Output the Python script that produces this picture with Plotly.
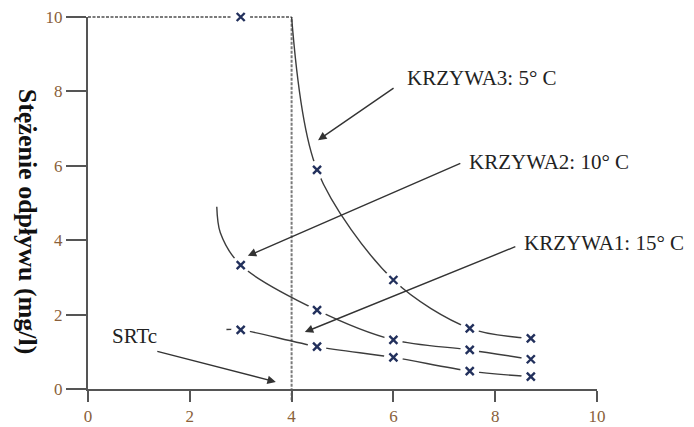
import plotly.graph_objects as go

# Sludge age (SRT, days) at which effluent concentration was measured
srt = [3.0, 4.5, 6.0, 7.5, 8.7]

# Effluent concentration (mg/l) per temperature curve
krzywa3 = [10.0, 5.89, 2.93, 1.63, 1.36]   # 5 °C
krzywa2 = [3.33, 2.12, 1.32, 1.05, 0.80]   # 10 °C
krzywa1 = [1.59, 1.14, 0.85, 0.48, 0.33]   # 15 °C

# Lead-in points where each fitted curve starts (no marker)
krzywa3_start = (4.0, 10.0)
krzywa2_start = [(2.53, 4.90), (2.60, 4.20)]
krzywa1_start = (2.72, 1.60)

# Critical sludge age
SRTC = 4.0
C_MAX = 10.0

x_ticks = [0, 2, 4, 6, 8, 10]
y_ticks = [0, 2, 4, 6, 8, 10]

LINE = "#3c3c3c"
DASH = "#7a7a7a"
TICK_TXT = "#8a5f3a"
SERIF = "Liberation Serif"

fig = go.Figure()

# fitted curves
fig.add_trace(go.Scatter(
    x=[krzywa3_start[0]] + srt[1:], y=[krzywa3_start[1]] + krzywa3[1:],
    mode="lines", line=dict(color=LINE, width=1.4, shape="spline", smoothing=0.9),
    hoverinfo="skip"))
fig.add_trace(go.Scatter(
    x=[p[0] for p in krzywa2_start] + srt, y=[p[1] for p in krzywa2_start] + krzywa2,
    mode="lines", line=dict(color=LINE, width=1.4, shape="spline", smoothing=0.9),
    hoverinfo="skip"))
fig.add_trace(go.Scatter(
    x=[krzywa1_start[0]] + srt, y=[krzywa1_start[1]] + krzywa1,
    mode="lines", line=dict(color=LINE, width=1.4, shape="spline", smoothing=0.9),
    hoverinfo="skip"))

all_x = srt * 3
all_y = krzywa3 + krzywa2 + krzywa1

# white halo behind each measurement mark
fig.add_trace(go.Scatter(
    x=all_x, y=all_y, mode="markers", cliponaxis=False,
    marker=dict(symbol="circle", size=19, color="white", line=dict(width=0)),
    hoverinfo="skip"))
# measurement marks
fig.add_trace(go.Scatter(
    x=all_x, y=all_y, mode="markers", cliponaxis=False,
    marker=dict(symbol="x-thin", size=8, line=dict(width=2.4, color="#22305c")),
    hoverinfo="skip"))

# SRTc guide lines
dash_line = dict(color=DASH, width=2, dash="3px,1.5px")
fig.add_shape(type="line", xref="x", yref="paper", x0=SRTC, x1=SRTC, y0=-0.03, y1=1,
              line=dash_line, layer="below")
fig.add_shape(type="line", xref="x", yref="paper", x0=0, x1=SRTC, y0=1, y1=1,
              line=dash_line, layer="below")

label_font = dict(family=SERIF, size=21, color="#222222")
arrow_kw = dict(showarrow=True, arrowhead=2, arrowsize=1.2, arrowwidth=1.4,
                arrowcolor="#333333", axref="pixel", ayref="pixel", text="")

# arrows: head on the curve, tail next to its label
fig.add_annotation(x=4.52, y=6.69, ax=77, ay=-53, **arrow_kw)
fig.add_annotation(x=3.14, y=3.58, ax=214, ay=-93, **arrow_kw)
fig.add_annotation(x=4.26, y=1.53, ax=212, ay=-86, **arrow_kw)
fig.add_annotation(x=3.69, y=0.19, ax=-120, ay=-31, **arrow_kw)

fig.add_annotation(x=6.23, y=8.36, text="KRZYWA3: 5° C", showarrow=False,
                   xanchor="left", yanchor="middle", font=label_font)
fig.add_annotation(x=7.45, y=6.10, text="KRZYWA2: 10° C", showarrow=False,
                   xanchor="left", yanchor="middle", font=label_font)
fig.add_annotation(x=8.53, y=3.92, text="KRZYWA1: 15° C", showarrow=False,
                   xanchor="left", yanchor="middle", font=label_font)
fig.add_annotation(x=0.43, y=1.42, text="SRTc", showarrow=False,
                   xanchor="left", yanchor="middle", font=label_font)

# y-axis title reading top to bottom
fig.add_annotation(xref="paper", yref="paper", x=-0.12, y=0.45,
                   text="<b>Stężenie odpływu (mg/l)</b>", textangle=90,
                   showarrow=False, xanchor="center", yanchor="middle",
                   font=dict(family=SERIF, size=26, color="#111111"))

axis_common = dict(showgrid=False, zeroline=False, showline=True,
                   linecolor="#555555", linewidth=2, ticks="outside",
                   tickcolor="#555555", tickwidth=2, automargin=False,
                   tickfont=dict(family=SERIF, size=17, color=TICK_TXT))

fig.update_xaxes(range=[0, 10], tickvals=x_ticks, ticklen=11, **axis_common)
fig.update_yaxes(range=[0, C_MAX], tickvals=y_ticks, ticklen=20, **axis_common)

fig.update_layout(
    width=694, height=427,
    margin=dict(l=88, r=97, t=17, b=38, autoexpand=False),
    plot_bgcolor="white", paper_bgcolor="white",
    showlegend=False,
)

fig.write_html("out.html")
